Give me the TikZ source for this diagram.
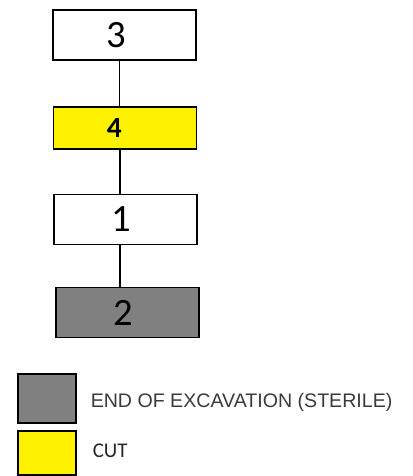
\documentclass[tikz,border=0pt]{standalone}
\usepackage{fontspec}
\setmainfont{Carlito}
\newfontfamily\arialfont{Liberation Sans}
\definecolor{cutyellow}{HTML}{FFF200}
\definecolor{sterilegrey}{HTML}{808080}
\definecolor{legendtext}{HTML}{3A3A3A}

\begin{document}
\begin{tikzpicture}[x=0.75pt,y=-0.75pt,
  layer/.style={draw,line width=1.1pt,minimum width=107.25pt,
    minimum height=37.5pt,inner sep=0pt,font=\fontsize{29}{30}\selectfont},
  key/.style={draw,line width=1.5pt,minimum width=43.5pt,
    minimum height=36.5pt,inner sep=0pt},
  keytext/.style={anchor=west,inner sep=0pt},
  link/.style={line width=1.1pt}]
\useasboundingbox (0,0) rectangle (413,476);

% stratigraphic units
\node[layer] (u3) at (124.5,35) {3\kern12pt};
\node[layer,fill=cutyellow,minimum height=31.5pt,
  font=\fontsize{22}{24}\selectfont\bfseries] (u4) at (125,128) {4\kern16pt};
\node[layer] (u1) at (125.5,219.5) {1\kern7pt};
\node[layer,fill=sterilegrey] (u2) at (127.5,312.5) {2\kern6pt};

% relations
\draw[link] (u3.south -| 119.5,0) -- (u4.north -| 119.5,0);
\draw[link] (u4.south -| 120,0) -- (u1.north -| 120,0);
\draw[link] (u1.south -| 120,0) -- (u2.north -| 120,0);

% legend
\node[key,fill=sterilegrey] (kgrey) at (47,398.5) {};
\node[key,fill=cutyellow,minimum height=33pt] (kyellow) at (47,453) {};
\node[keytext,font=\arialfont\fontsize{14.7}{16}\selectfont,text=legendtext]
  (tgrey) at (90.5,402) {END OF EXCAVATION (STERILE)};
\node[keytext,font=\fontsize{15.7}{17}\selectfont,text=black!85]
  (tyellow) at (92.5,451) {CUT};

\end{tikzpicture}
\end{document}
